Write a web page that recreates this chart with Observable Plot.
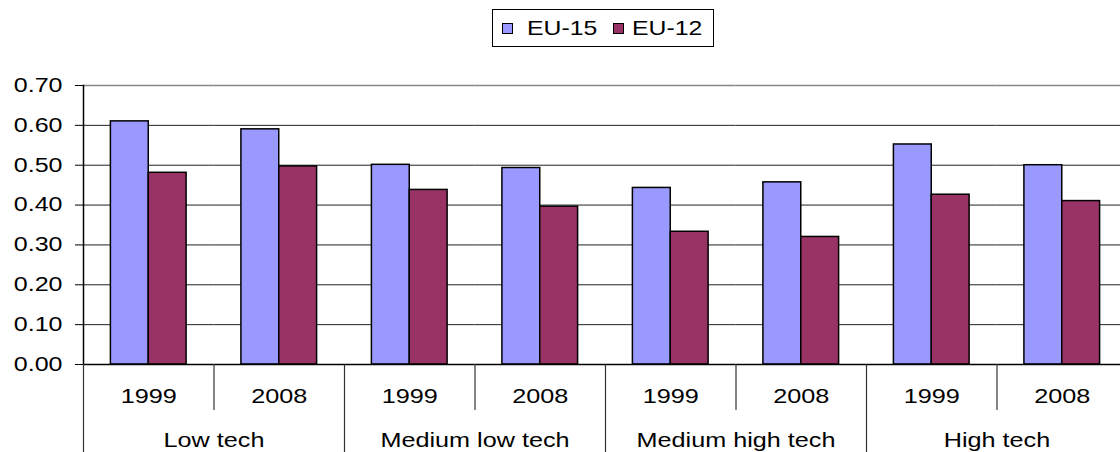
<!DOCTYPE html>
<html>
<head>
<meta charset="utf-8">
<script src="https://cdn.jsdelivr.net/npm/d3@7"></script>
<script src="https://cdn.jsdelivr.net/npm/@observablehq/plot@0.6"></script>
<style>
  html, body { margin: 0; padding: 0; background: #fff; overflow: hidden; }
  #legend { position: relative; width: 1120px; height: 56px; font-family: "Liberation Sans", Arial, sans-serif; font-size: 21px; color: #000; }
  #legend .box { position: absolute; left: 492px; top: 9px; width: 220px; height: 36px; border: 1px solid #000; }
  #legend .sw { position: absolute; width: 9px; height: 9px; border: 1px solid #000; top: 23px; }
  #legend .lab { position: absolute; top: 17px; line-height: 21px; white-space: nowrap; transform: scaleX(1.18); transform-origin: left center; }
  #chart svg { display: block; }
</style>
</head>
<body>
<div id="legend"></div>
<div id="chart"></div>
<script>
// ---- data ----
const groups = ["Low tech", "Medium low tech", "Medium high tech", "High tech"];
const years = ["1999", "2008"];
const series = ["EU-15", "EU-12"];
const seriesColors = ["#9999FF", "#993366"];
// values in order: Low tech 1999, 2008, Medium low tech 1999, 2008, ...
const eu15 = [0.610, 0.590, 0.501, 0.493, 0.443, 0.457, 0.552, 0.500];
const eu12 = [0.481, 0.497, 0.438, 0.396, 0.333, 0.320, 0.426, 0.410];
const yTicks = [0.00, 0.10, 0.20, 0.30, 0.40, 0.50, 0.60, 0.70];

// ---- derived tables ----
const slots = [];
groups.forEach(g => years.forEach(y => slots.push({key: g + "|" + y, group: g, year: y})));
const rows = [];
slots.forEach((s, i) => {
  rows.push({slot: s.key, series: series[0], value: eu15[i]});
  rows.push({slot: s.key, series: series[1], value: eu12[i]});
});

// ---- legend ----
const legend = document.getElementById("legend");
legend.innerHTML = `<div class="box"></div>
  <div class="sw" style="left:502px;background:${seriesColors[0]}"></div>
  <div class="lab" style="left:527px">${series[0]}</div>
  <div class="sw" style="left:613px;background:${seriesColors[1]}"></div>
  <div class="lab" style="left:632px">${series[1]}</div>`;

const lineShape = {draw(ctx, l) { ctx.moveTo(0, 0); ctx.lineTo(0, -l); }};

const chart = Plot.plot({
  width: 1120,
  height: 396,
  marginLeft: 83,
  marginRight: -7,
  marginTop: 29,
  marginBottom: 88,
  style: {fontFamily: "'Liberation Sans', Arial, sans-serif", fontSize: "21px", color: "#000", background: "#fff", overflow: "hidden"},
  fx: {domain: slots.map(s => s.key), padding: 0, round: false, axis: null},
  x: {domain: series, paddingInner: 0, paddingOuter: 0.724, round: false, axis: null},
  y: {domain: [0, 0.7], axis: null},
  color: {domain: series, range: seriesColors},
  marks: [
    Plot.ruleY(yTicks.filter(v => v > 0 && v < 0.7), {stroke: "#222", strokeWidth: 1}),
    Plot.ruleY([0.7], {stroke: "#888", strokeWidth: 1.5}),
    Plot.barY(rows, {fx: "slot", x: "series", y: "value", fill: "series", stroke: "#000", strokeWidth: 1.5, inset: 0}),
    Plot.ruleY([0], {stroke: "#000", strokeWidth: 1.5}),
    Plot.frame({anchor: "left", facetAnchor: "left", stroke: "#000", strokeWidth: 1.5}),
    Plot.axisY(yTicks, {tickFormat: d => d.toFixed(2), tickSize: 8, tickPadding: 13, fontSize: 20, stroke: "#000", label: null}),
    // separators between years (short) and groups (long)
    Plot.vector(slots.filter(s => s.year === years[1]), {fx: "key", frameAnchor: "bottom-left", length: 45, rotate: 180, anchor: "start", shape: lineShape, stroke: "#333", strokeWidth: 1.2}),
    Plot.vector(slots.filter(s => s.year === years[0]), {fx: "key", frameAnchor: "bottom-left", length: 90, rotate: 180, anchor: "start", shape: lineShape, stroke: "#333", strokeWidth: 1.2}),
    Plot.text(slots, {fx: "key", text: "year", frameAnchor: "bottom", lineAnchor: "middle", dy: 32, fontSize: 21, fill: "#000"}),
    Plot.text(slots.filter(s => s.year === years[0]), {fx: "key", text: "group", frameAnchor: "bottom-right", textAnchor: "middle", lineAnchor: "middle", dy: 76, fontSize: 21, fill: "#000"})
  ]
});
document.getElementById("chart").appendChild(chart);

// widen glyphs horizontally to match the reference's stretched text
chart.querySelectorAll("text").forEach(t => {
  const w = t.getComputedTextLength();
  if (w > 0) {
    const isTick = t.closest("[aria-label='y-axis tick label']") !== null;
    t.setAttribute("textLength", (w * (isTick ? 1.25 : 1.2)).toFixed(1));
    t.setAttribute("lengthAdjust", "spacingAndGlyphs");
  }
});
</script>
</body>
</html>
